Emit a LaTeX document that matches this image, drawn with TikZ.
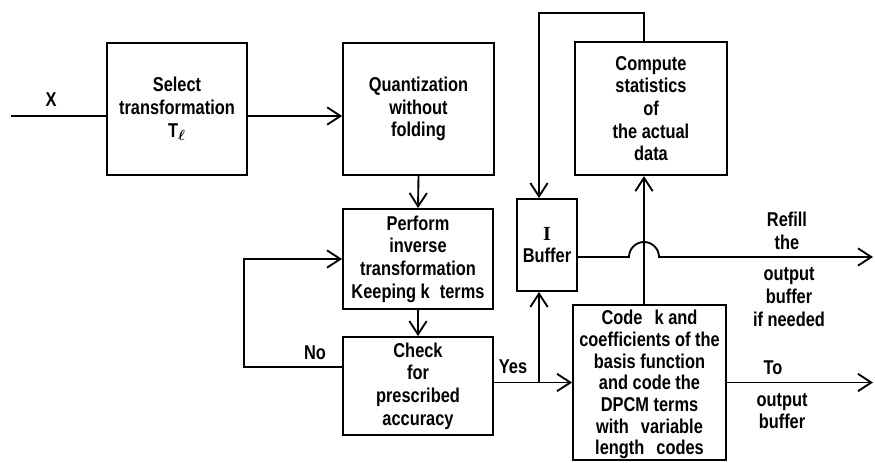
\documentclass[tikz,border=0pt]{standalone}
\usepackage{amsmath,amssymb}
\usepackage{fontspec}
\setmainfont[FakeStretch=0.82]{Liberation Sans}
\newfontfamily\romanI{Liberation Serif}
\usepackage{tikz}
\usetikzlibrary{arrows.meta,positioning,calc}

\begin{document}
\begin{tikzpicture}[
    x=0.75pt, y=-0.75pt,
    box/.style={rectangle, draw, line width=1.4pt, align=center, inner sep=1pt, font=\bfseries\fontsize{15}{17}\selectfont},
    lbl/.style={align=center, inner sep=0pt, font=\bfseries\fontsize{15}{17}\selectfont},
    wire/.style={line width=1.4pt},
    arr/.style={wire, -{Straight Barb[length=10pt, width=13pt, line width=1.4pt]}}
  ]
    \useasboundingbox (0,0) rectangle (875,462);
    % blocks
    \node[box, minimum width=105pt, minimum height=99pt] (sel) at (177,109) {Select\\transformation\\T$_{\boldsymbol{\ell}}$};
    \node[box, minimum width=113pt, minimum height=99pt] (quant) at (418.5,109) {Quantization\\without\\folding};
    \node[box, minimum width=114pt, minimum height=100pt] (comp) at (651,108.5) {Compute\\statistics\\of\\the actual\\data};
    \node[box, minimum width=112.5pt, minimum height=75pt] (perf) at (418,259) {Perform\\inverse\\transformation\\Keeping k\hspace{0.5em}terms};
    \node[box, minimum width=112.5pt, minimum height=73.5pt] (check) at (418,386) {Check\\for\\prescribed\\accuracy};
    \node[box, minimum width=45pt, minimum height=69pt] (buf) at (547,245) {{\romanI I}\\Buffer};
    \node[box, font=\bfseries\fontsize{15}{16.3}\selectfont, text depth=0pt, minimum width=114.75pt, minimum height=116pt] (code) at (649.5,382.5) {Code\hspace{0.6em}k and\\coefficients of the\\basis function\\and code the\\DPCM terms\\with\hspace{0.6em}variable\\length\hspace{0.6em}codes};
    % free ends and bends
    \coordinate (xin) at (11,116);
    \coordinate (fb) at (644,13);
    \coordinate (split) at (539,382.5);
    \coordinate (refill) at (873,257);
    \coordinate (toout) at (873,382.5);
    % connectors
    \draw[wire] (xin) -- (xin -| sel.west);
    \draw[arr] (sel.east |- xin) -- (quant.west |- xin);
    \draw[arr] (quant.south) -- (perf.north);
    \draw[arr] (perf.south) -- (check.north);
    \draw[arr] ([yshift=14.25pt]check.west) -- ++(-98,0) |- (perf.west);
    \draw[arr] (check.east |- code.west) -- (code.west);
    \draw[arr] (split) -- (split |- buf.south);
    \draw[arr] (fb |- comp.north) -- (fb) -| (split |- buf.north);
    \draw[arr] (fb |- code.north) -- (fb |- comp.south);
    \draw[arr] (buf.east |- refill) -- ([xshift=-11.25pt]fb |- refill)
        arc[start angle=180, end angle=0, radius=11.25pt] -- (refill);
    \draw[arr] (code.east |- toout) -- (toout);
    % labels
    \node[lbl] (xlbl) at (51,100) {X};
    \node[lbl] (nolbl) at (315,353) {No};
    \node[lbl] (yeslbl) at (513,367) {Yes};
    \node[lbl] (refilltop) at (787,231) {Refill\\the};
    \node[lbl] (refillbot) at (789,297) {output\\buffer\\if needed};
    \node[lbl] (tolbl) at (773,368) {To};
    \node[lbl] (outlbl) at (782,411) {output\\buffer};
  \end{tikzpicture}
\end{document}
